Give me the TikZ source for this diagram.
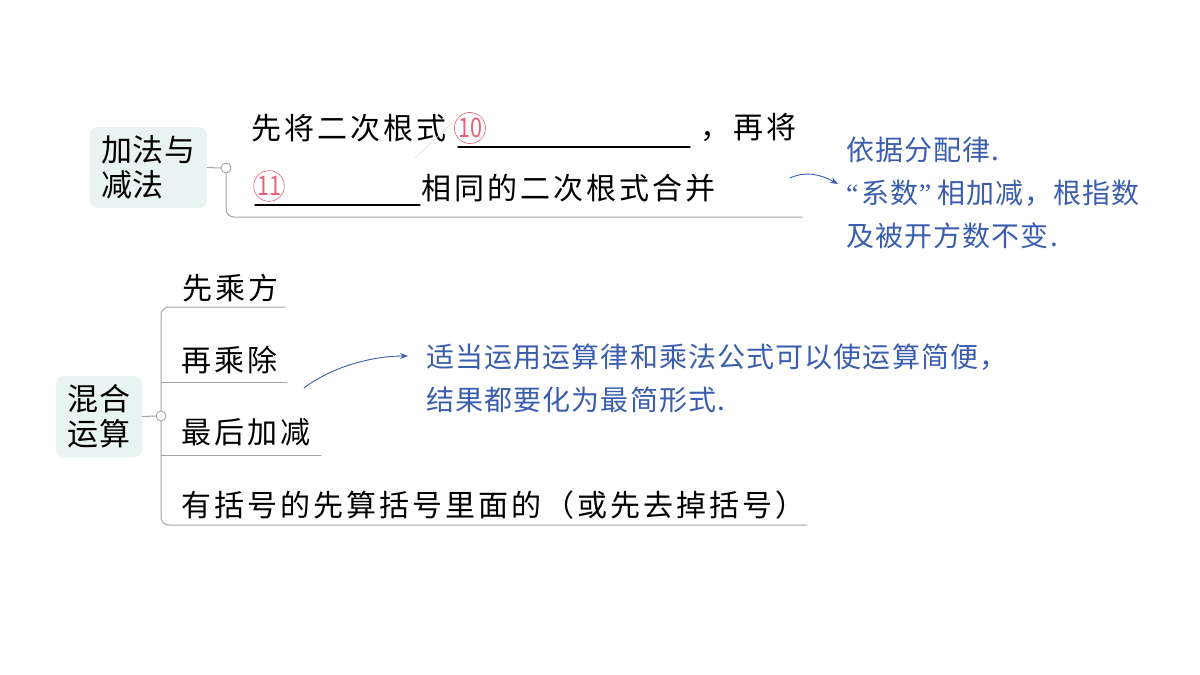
\documentclass[tikz,border=0pt]{standalone}
\usepackage{fontspec}
\usetikzlibrary{arrows.meta}
\newfontfamily\itemfont[LetterSpace=10]{Noto Sans CJK SC}
\newfontfamily\topicfont[LetterSpace=2]{Noto Sans CJK SC}
\newfontfamily\notefont[LetterSpace=4]{Noto Sans CJK SC}
\newfontfamily\numfont[FakeStretch=0.8]{Noto Sans CJK SC}
\newfontfamily\quotefont{Liberation Serif}
\definecolor{topicbg}{HTML}{E8F4F2}
\definecolor{linegray}{HTML}{A4A4A4}
\definecolor{noteblue}{HTML}{3A5DAE}
\definecolor{ringpink}{HTML}{E8607A}

\begin{document}
\begin{tikzpicture}[
  x=1pt,y=-1pt,
  line cap=round,
  topic/.style={fill=topicbg,rounded corners=8pt,align=left,inner sep=0pt,
                font=\topicfont\fontsize{31}{35}\selectfont},
  knob/.style={circle,draw=linegray,fill=white,line width=0.9pt,
               inner sep=0pt,minimum size=10pt},
  branch/.style={draw=linegray,line width=1pt},
  item/.style={anchor=west,inner sep=0pt,font=\itemfont\fontsize{30}{34}\selectfont},
  blank/.style={line width=1.3pt,black},
  numring/.style={circle,draw=ringpink,line width=0.6pt,text=ringpink,
                  inner sep=0pt,minimum size=30pt,
                  font=\numfont\fontsize{27}{27}\selectfont},
  note/.style={anchor=west,inner sep=0pt,align=left,text=noteblue,
               font=\notefont\fontsize{28}{43}\selectfont},
  hint/.style={-{Stealth[length=8pt,width=6pt]},noteblue,line width=0.9pt}
]
\useasboundingbox (0,0) rectangle (1200,675);

% ---- Addition and subtraction ----
\node[topic,minimum width=117pt,minimum height=81pt] (add) at (148.5,167.5)
  {加法与\\减法};
\node[knob] (knobA) at (226,168) {};
\draw[branch] (add.east) -- (knobA.west);
\coordinate (endA) at (802,217);
\draw[branch,rounded corners=8pt] (knobA.south) |- (endA);

% first line: simplify, then merge
\node[item] (stepA) at (251,128) {先将二次根式};
\node[numring] (ten) at (470,128) {10};
\draw[gray!30,line width=0.5pt] (415,158) -- (452,123);
\coordinate (blankAs) at (458,147);
\coordinate (blankAe) at (690,147);
\draw[blank] (blankAs) -- (blankAe);
\node[item] (thenA) at (700,128) {，再将};

% second line
\node[numring] (eleven) at (269,186) {11};
\coordinate (blankBs) at (255,205);
\coordinate (blankBe) at (420,205);
\draw[blank] (blankBs) -- (blankBe);
\node[item] (mergeA) at (421,188) {相同的二次根式合并};

% ---- Handwritten hint (distributive law) ----
\node[note] (noteA) at (846,193)
  {依据分配律.\\{\quotefont“}\hspace{3pt}系数{\quotefont”}\hspace{6pt}相加减，根指数\\及被开方数不变.};
\coordinate (hintAs) at (790,178);
\coordinate (hintAe) at (838,184);
\draw[hint] (hintAs) .. controls (805,171) and (820,174) .. (hintAe);

% ---- Mixed operations ----
\node[topic,minimum width=86pt,minimum height=81pt] (mix) at (99,416.5)
  {混合\\运算};
\node[knob] (knobB) at (161,416) {};
\draw[branch] (mix.east) -- (knobB.west);

\coordinate (lineB1) at (285,307);
\coordinate (lineB2) at (287,382);
\coordinate (lineB3) at (321,455);
\coordinate (lineB4) at (807,525);
\draw[branch,rounded corners=8pt] (lineB1) -| (knobB.north);
\draw[branch,rounded corners=8pt] (knobB.south) |- (lineB4);
\draw[branch] (lineB2) -- (lineB2 -| knobB);
\draw[branch] (lineB3) -- (lineB3 -| knobB);

\node[item] (powB) at (182,288) {先乘方};
\node[item] (mulB) at (181,360) {再乘除};
\node[item] (sumB) at (181,432) {最后加减};
\node[item] (parB) at (181,505) {有括号的先算括号里面的（或先去掉括号）};

% ---- Handwritten hint (laws and formulas) ----
\node[note] (noteB) at (426,378) {适当运用运算律和乘法公式可以使运算简便，\\结果都要化为最简形式.};
\coordinate (hintBs) at (304,388);
\coordinate (hintBe) at (408,356);
\draw[hint] (hintBs) .. controls (330,368) and (370,356) .. (hintBe);

\end{tikzpicture}
\end{document}
